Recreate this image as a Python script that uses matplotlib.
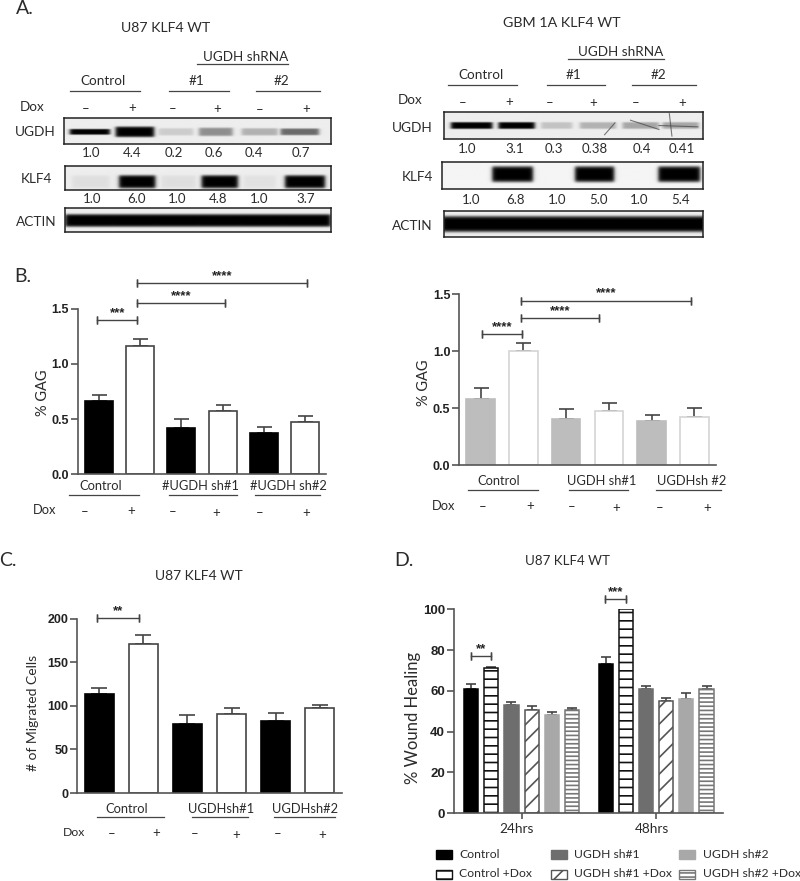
import numpy as np
import matplotlib
matplotlib.use("Agg")
import matplotlib.pyplot as plt
from matplotlib.patches import Rectangle

W, H = 800, 881
TXT = "#2b2b2b"
AX = "#555555"
plt.rcParams["font.family"] = ["Lato", "DejaVu Sans"]
plt.rcParams["hatch.linewidth"] = 1.2

# western blot numbers
u87_ugdh_nums = ["1.0", "4.4", "0.2", "0.6", "0.4", "0.7"]
u87_klf4_nums = ["1.0", "6.0", "1.0", "4.8", "1.0", "3.7"]
gbm_ugdh_nums = ["1.0", "3.1", "0.3", "0.38", "0.4", "0.41"]
gbm_klf4_nums = ["1.0", "6.8", "1.0", "5.0", "1.0", "5.4"]

# band darkness per lane, read by eye
u87_ugdh_bands = [1.0, 1.0, 0.14, 0.4, 0.25, 0.55]
u87_klf4_bands = [0.06, 1.0, 0.06, 1.0, 0.05, 1.0]
u87_actin_bands = [1.0, 1.0, 1.0, 1.0, 1.0, 1.0]
gbm_ugdh_bands = [1.0, 1.0, 0.18, 0.25, 0.3, 0.3]
gbm_klf4_bands = [0.0, 1.0, 0.0, 1.0, 0.0, 1.0]
gbm_actin_bands = [1.0, 1.0, 1.0, 1.0, 1.0, 1.0]

# panel B left
gag_u87 = [0.66, 1.16, 0.42, 0.57, 0.37, 0.47]
gag_u87_err = [0.06, 0.07, 0.08, 0.055, 0.055, 0.055]
# panel B right
gag_gbm = [0.58, 1.0, 0.41, 0.48, 0.385, 0.42]
gag_gbm_err = [0.095, 0.07, 0.08, 0.065, 0.055, 0.08]
# panel C
migrated = [114, 171, 79, 91, 83, 97]
migrated_err = [6, 10, 10, 7, 9, 4]
# panel D
groups = ["24hrs", "48hrs"]
series = ["Control", "Control +Dox", "UGDH sh#1", "UGDH sh#1 +Dox", "UGDH sh#2", "UGDH sh#2 +Dox"]
heal_24 = [61, 71, 53, 50.5, 48, 50.5]
heal_24_err = [2.5, 0.5, 1.5, 2, 1.5, 1]
heal_48 = [73, 100, 61, 55, 56, 61]
heal_48_err = [3.5, 0, 1.5, 1.5, 2.8, 1.5]

fig = plt.figure(figsize=(W / 100, H / 100), dpi=100, facecolor="white")


def px_axes(x0, y0, x1, y1):
    return fig.add_axes([x0 / W, 1 - y1 / H, (x1 - x0) / W, (y1 - y0) / H])


def draw_blot(box, lanes, bands, half, mid, thick, bg=0.93):
    ax = px_axes(*box)
    xx, yy = np.meshgrid(np.linspace(0, 1, 400), np.linspace(0, 1, 60))
    img = np.full(xx.shape, bg)
    thick = np.broadcast_to(thick, len(bands))
    for c, d, h, th in zip(lanes, bands, half, thick):
        sx = 0.5 * (np.tanh((xx - c + h) * 120) - np.tanh((xx - c - h) * 120))
        sy = np.exp(-(((yy - mid) / th) ** 6))
        img = np.minimum(img, bg - d * bg * sx * sy)
    ax.imshow(img, cmap="gray", vmin=0, vmax=1, aspect="auto", extent=(0, 1, 1, 0))
    ax.set_xticks([])
    ax.set_yticks([])
    for s in ax.spines.values():
        s.set_linewidth(1.1)
        s.set_color("#222222")
    return ax


def bracket(ax, x0, x1, y, stars, fs=9.5):
    ax.plot([x0, x1], [y, y], color="#444444", lw=1, clip_on=False)
    ax.plot([x0, x0], [y, y], color="#444444", marker="|", ms=5.5, mew=1, clip_on=False)
    ax.plot([x1, x1], [y, y], color="#444444", marker="|", ms=5.5, mew=1, clip_on=False)
    ax.annotate(stars, ((x0 + x1) / 2, y), xytext=(0, 5), textcoords="offset points", ha="center", va="center",
                fontsize=fs, fontweight="bold", family="Liberation Sans", color="#222222", annotation_clip=False)


def style_axes(ax, ticks, labels, fs=9):
    for s in ["top", "right"]:
        ax.spines[s].set_visible(False)
    for s in ["left", "bottom"]:
        ax.spines[s].set_linewidth(1.2)
        ax.spines[s].set_color(AX)
    ax.set_yticks(ticks)
    ax.set_yticklabels(labels, fontsize=fs, fontweight="bold", family="Liberation Sans", color="#222222")
    ax.tick_params(axis="y", length=5, width=1.2, color=AX, pad=1.5)
    ax.patch.set_alpha(0)


def bar_panel(box, ylim, vals, errs, fill, edge, width, capsize, ticks, labels):
    ax = px_axes(*box)
    x = np.arange(len(vals))
    colors = [fill if i % 2 == 0 else "white" for i in x]
    edges = [fill if i % 2 == 0 else edge for i in x]
    ax.errorbar(x, vals, yerr=[np.zeros(len(errs)), errs], fmt="none", ecolor="#444444", elinewidth=1.2,
                capsize=capsize, capthick=1.2, zorder=1)
    ax.bar(x, vals, width=width, color=colors, edgecolor=edges, linewidth=1.2, zorder=2)
    ax.set_xlim(-0.5, 5.5)
    ax.set_ylim(*ylim)
    ax.set_xticks([])
    style_axes(ax, ticks, labels)
    return ax


# blots, left
lanes_u = [0.096, 0.265, 0.419, 0.569, 0.734, 0.884]
half_u = [0.075, 0.072, 0.065, 0.063, 0.068, 0.072]
draw_blot((64, 117.5, 331, 144), lanes_u, u87_ugdh_bands, half_u, 0.55, [0.11, 0.2, 0.14, 0.16, 0.14, 0.13])
lanes_k = [0.096, 0.27, 0.426, 0.58, 0.73, 0.90]
half_k = [0.07, 0.068, 0.065, 0.068, 0.06, 0.075]
draw_blot((64.5, 166, 331, 190), lanes_k, u87_klf4_bands, half_k, 0.66, 0.28)
draw_blot((65, 208, 331, 232), np.linspace(0.1, 0.9, 6), u87_actin_bands, [0.1] * 6, 0.52, 0.27)

# blots, right
lanes_gu = [0.106, 0.28, 0.435, 0.595, 0.76, 0.915]
half_gu = [0.08, 0.07, 0.06, 0.07, 0.07, 0.07]
ax_g = draw_blot((444, 112.3, 703, 138.7), lanes_gu, gbm_ugdh_bands, half_gu, 0.5, 0.13)
for xs, ys in [([0.62, 0.66], [0.85, 0.4]), ([0.72, 0.83], [0.3, 0.65]), ([0.87, 0.88], [0.05, 0.9]), ([0.83, 0.98], [0.5, 0.55])]:
    ax_g.plot(xs, ys, color="#444444", lw=0.8, alpha=0.7)
ax_g.set_xlim(0, 1)
ax_g.set_ylim(1, 0)
draw_blot((442, 162, 703, 188.7), [0.1, 0.27, 0.42, 0.585, 0.75, 0.91], gbm_klf4_bands,
          [0.05, 0.078, 0.05, 0.075, 0.05, 0.08], 0.45, 0.3, bg=0.96)
draw_blot((444, 210.7, 703, 237.3), np.linspace(0.1, 0.92, 6), gbm_actin_bands, [0.11] * 6, 0.52, 0.3)

# panel B left
ax1 = bar_panel((78, 308.7, 326, 474.3), (0, 1.5), gag_u87, gag_u87_err, "black", "#444444", 0.68, 5.4,
                [0, 0.5, 1.0, 1.5], ["0.0", "0.5", "1.0", "1.5"])
bracket(ax1, -0.03, 0.93, 1.40, "***")
bracket(ax1, 0.935, 3.06, 1.555, "****")
bracket(ax1, 0.935, 5.03, 1.735, "****")

# panel B right
ax2 = bar_panel((459.3, 294.3, 715.7, 465.3), (0, 1.5), gag_gbm, gag_gbm_err, "#bdbdbd", "#d4d4d4", 0.67, 5.4,
                [0, 0.5, 1.0, 1.5], ["0.0", "0.5", "1.0", "1.5"])
bracket(ax2, 0.02, 0.97, 1.152, "****")
bracket(ax2, 0.95, 2.77, 1.295, "****")
bracket(ax2, 0.945, 4.93, 1.445, "****")

# panel C
ax3 = bar_panel((77.3, 618.7, 341.7, 793), (0, 200), migrated, migrated_err, "black", "#444444", 0.67, 6,
                [0, 50, 100, 150, 200], ["0", "50", "100", "150", "200"])
bracket(ax3, -0.05, 0.91, 201, "**")

# panel D
ax4 = px_axes(454, 609.3, 723.3, 813)
fills = ["black", "white", "#6e6e6e", "white", "#a8a8a8", "white"]
edges = ["black", "#111111", "#6e6e6e", "#555555", "#a8a8a8", "#777777"]
hatches = [None, "--", None, "//", None, "----"]
offsets = [0, 6.67]
for off, vals, errs in zip(offsets, [heal_24, heal_48], [heal_24_err, heal_48_err]):
    x = np.arange(6) + off
    ax4.errorbar(x, vals, yerr=[np.zeros(6), errs], fmt="none", ecolor="#444444", elinewidth=1.2,
                 capsize=3.3, capthick=1.2, zorder=1)
    for xi, v, f, e, h in zip(x, vals, fills, edges, hatches):
        ax4.bar(xi, v, width=0.7, color=f, edgecolor=e, hatch=h, linewidth=1.1, zorder=2)
ax4.set_xlim(-0.85, 12.5)
ax4.set_ylim(0, 100)
ax4.set_xticks([2.5, 9.17])
ax4.set_xticklabels([])
ax4.tick_params(axis="x", length=4, width=1.2, color=AX)
style_axes(ax4, [0, 20, 40, 60, 80, 100], ["0", "20", "40", "60", "80", "100"], fs=9.5)
bracket(ax4, 0, 0.97, 77, "**")
bracket(ax4, 6.65, 7.66, 105, "***")

# overlay in pixel coordinates for all the labelling
ov = fig.add_axes([0, 0, 1, 1], zorder=10)
ov.set_xlim(0, W)
ov.set_ylim(H, 0)
ov.axis("off")


def t(x, y, s, fs=8.5, **kw):
    kw.setdefault("ha", "center")
    ov.text(x, y, s, fontsize=fs, color=TXT, va="center", **kw)


def rule(x0, x1, y):
    ov.plot([x0, x1], [y, y], color="#444444", lw=0.9)


def row(xs, y, labels, fs=8.5):
    for x, s in zip(xs, labels):
        t(x, y, s, fs=fs)


def signs(xs, ys):
    for i, (x, y) in enumerate(zip(xs, ys)):
        t(x, y, "–" if i % 2 == 0 else "+", fs=9.5)


for x, y, s in [(25, 8, "A."), (23, 277, "B."), (8, 560, "C."), (404, 560, "D.")]:
    t(x, y, s, fs=14)

# A left
t(165.7, 28.3, "U87 KLF4 WT", fs=10.2)
t(245.7, 57.3, "UGDH shRNA", fs=9.7)
rule(197, 288, 64.3)
row([103, 196.7, 281.7], 81, ["Control", "#1", "#2"], fs=9.7)
rule(70, 140, 90.7)
rule(169.3, 228.7, 90.7)
rule(255.7, 320, 90.7)
t(31.7, 106.7, "Dox", fs=9.7)
signs([85.7, 131.7, 172.7, 216.7, 260, 305.7], [109, 107.7, 109.3, 109, 110, 109.3])
t(35.7, 131.7, "UGDH", fs=9.8)
t(36.7, 179.3, "KLF4", fs=9.8)
t(36.7, 221.7, "ACTIN", fs=9.8)
row([91, 132, 174, 213.7, 254, 301], 153.3, u87_ugdh_nums, fs=9.5)
row([91.7, 136, 176.7, 218.3, 259, 305.3], 199.3, u87_klf4_nums, fs=9.5)

# A right
t(561.7, 22.7, "GBM 1A KLF4 WT", fs=10.3)
t(620.7, 51.7, "UGDH shRNA", fs=9.7)
rule(568.3, 664.3, 59)
row([480.7, 573.7, 658], 75, ["Control", "#1", "#2"], fs=9.7)
rule(447.7, 517.3, 85.3)
rule(546.7, 605, 85.3)
rule(632.3, 696, 85.3)
t(410, 100, "Dox", fs=9.7)
signs([462.7, 508.7, 550, 593, 636, 682.3], [103, 101.7, 103, 103.3, 103.3, 103.3])
t(433, 128.3, "UGDH", fs=9.8, ha="right")
t(433, 176.7, "KLF4", fs=9.8, ha="right")
t(433, 226, "ACTIN", fs=9.8, ha="right")
row([467.3, 514.3, 554.3, 594.7, 641.7, 682], 149, gbm_ugdh_nums, fs=9.5)
row([471.3, 515.3, 557.3, 598.3, 638.7, 681], 200, gbm_klf4_nums, fs=9.5)

# B left
t(43.3, 393, "% GAG", fs=10.5, rotation=90)
row([100.7, 200, 288.7], 485.7, ["Control", "#UGDH sh#1", "#UGDH sh#2"], fs=9.3)
rule(69, 139.3, 495)
rule(168.7, 237.3, 495)
rule(255.3, 320.3, 495)
t(45, 510, "Dox", fs=9.3)
signs([84.3, 131, 172.3, 215.7, 260, 305.7], [512, 511, 512.3, 512.7, 512.7, 512.7])

# B right
t(424, 382.3, "% GAG", fs=10.5, rotation=90)
row([499, 602, 691.3], 480.7, ["Control", "UGDH sh#1", "UGDHsh #2"], fs=9.3)
rule(467.7, 538.3, 490)
rule(568.7, 628.3, 490)
rule(656, 721, 490)
t(443.3, 506, "Dox", fs=9.3)
signs([483, 530, 571.7, 615.7, 660, 706.7], [507, 506.3, 507.3, 507.7, 507.7, 507.7])

# C
t(199, 576, "U87 KLF4 WT", fs=10)
t(33.3, 713.3, "# of Migrated Cells", fs=10, rotation=90)
row([126.7, 220.7, 304.7], 808.7, ["Control", "UGDHsh#1", "UGDHsh#2"], fs=9.3)
rule(97, 163.7, 817.3)
rule(191.7, 248.3, 817.3)
rule(274, 335, 817.3)
t(74, 832.3, "Dox", fs=8.8)
signs([111.7, 155.7, 195, 236, 278, 321.7], [834, 833.3, 834, 834.7, 834.3, 834.7])

# D
t(567.3, 560.7, "U87 KLF4 WT", fs=9.6)
t(412.7, 717.7, "% Wound Healing", fs=12, rotation=90)
t(516.7, 829.3, groups[0], fs=9.8)
t(651.7, 829.3, groups[1], fs=9.8)

# legend for D
for x0, x_txt, idx in [(435.7, 459.3, (0, 1)), (551, 574.3, (2, 3)), (679.3, 702.7, (4, 5))]:
    for i, (ytop, ytxt) in zip(idx, [(850.3, 854.3), (870, 873.7)]):
        ov.add_patch(Rectangle((x0, ytop), 16, 9, facecolor=fills[i], edgecolor=edges[i], hatch=hatches[i], lw=1))
        t(x_txt, ytxt, series[i], fs=8.7, ha="left")

fig.savefig("out.png", dpi=100)
